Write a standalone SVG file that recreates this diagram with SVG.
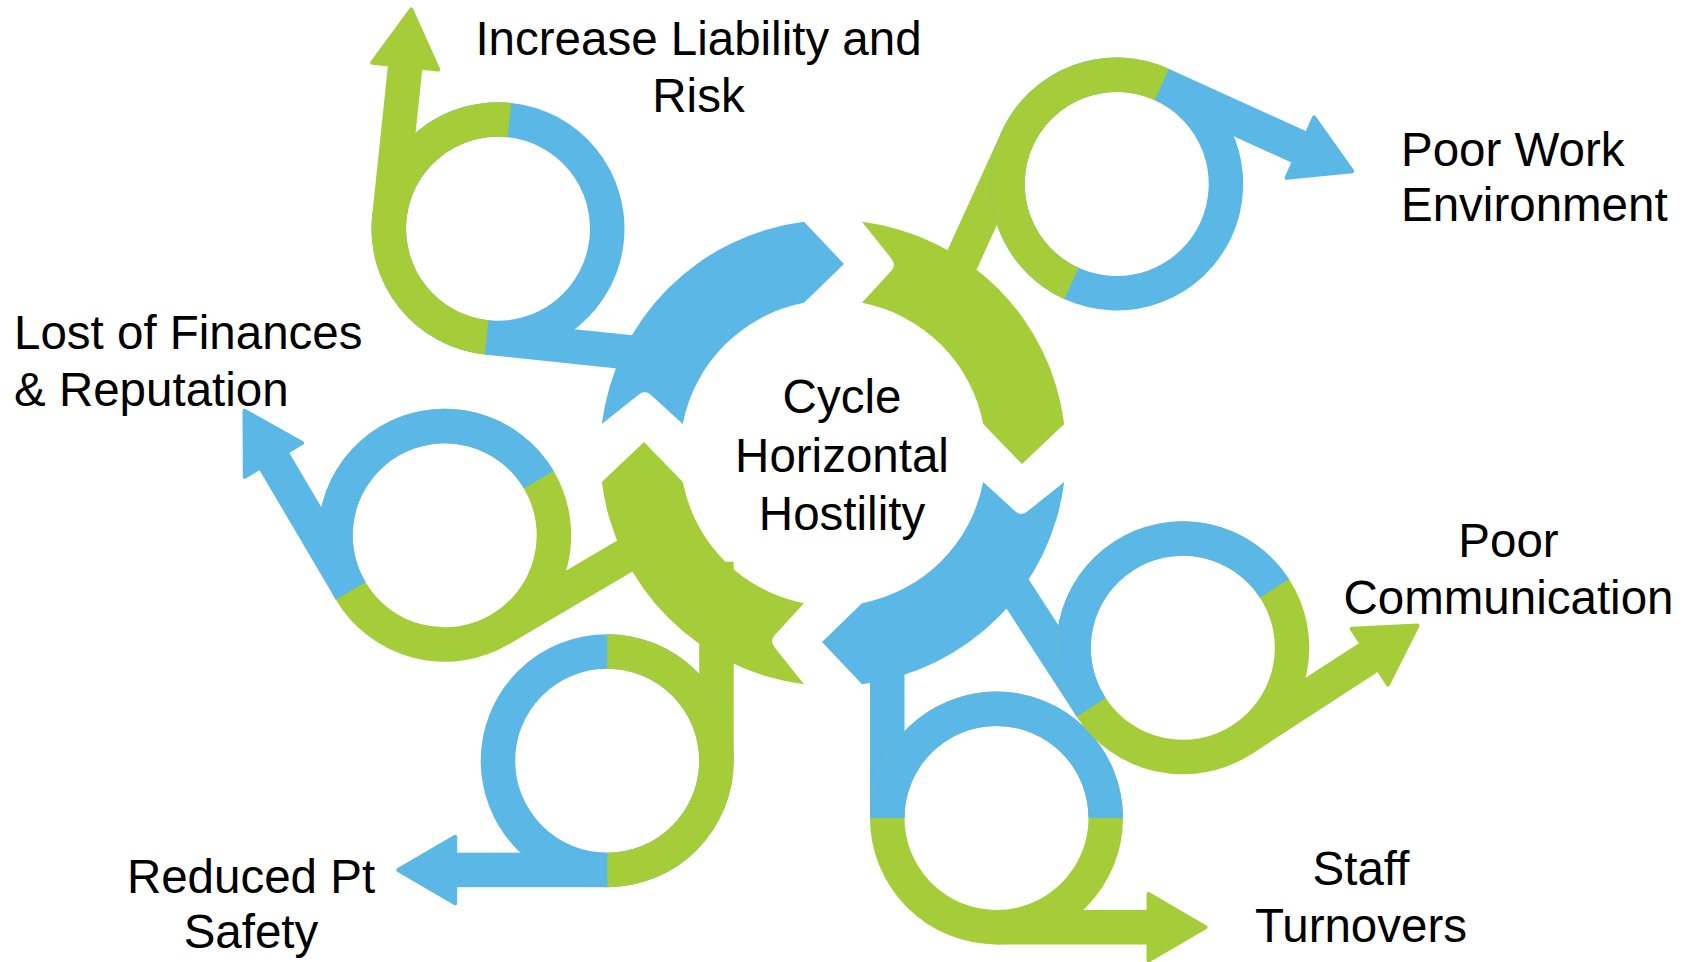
<svg xmlns="http://www.w3.org/2000/svg" width="1692" height="962" viewBox="0 0 1692 962">
<style>
.b{fill:#5BB7E6}
.g{fill:#A5CD39}
.rb{fill:none;stroke:#5BB7E6;stroke-width:34.5}
.rg{fill:none;stroke:#A5CD39;stroke-width:34.5}
.hb{fill:#5BB7E6;stroke:#5BB7E6;stroke-width:4;stroke-linejoin:round}
.hg{fill:#A5CD39;stroke:#A5CD39;stroke-width:4;stroke-linejoin:round}
.t{font-family:"Liberation Sans",Arial,sans-serif;font-size:47.5px;fill:#000}
.m{text-anchor:middle}
</style>
<defs>
<path id="lh" d="M0,-126.5 A126.5,126.5 0 0 0 0,126.5 L0,92 A92,92 0 0 1 0,-92 Z"/>
<path id="th" d="M-126.5,0 A126.5,126.5 0 0 1 126.5,0 L92,0 A92,92 0 0 0 -92,0 Z"/>
</defs>
<rect width="1692" height="962" fill="#fff"/>

<g id="connectors">
<rect class="b" transform="translate(498,228.7) rotate(6)" x="0" y="92" width="152" height="34.5"/>
<rect class="g" transform="translate(1116.7,184) rotate(24.5) scale(1,-1)" x="-126.5" y="-185" width="34.5" height="185"/>
<rect class="b" transform="translate(1182.8,647.8) rotate(-33)" x="-126.5" y="-185" width="34.5" height="185"/>
<rect class="b" transform="translate(996.5,818)" x="-126.5" y="-178" width="34.5" height="178"/>
<rect class="g" transform="translate(607.2,760.7) scale(-1,1)" x="-126.5" y="-199" width="34.5" height="199"/>
<rect class="g" transform="translate(444.7,535.3) rotate(-30.5)" x="0" y="92" width="185" height="34.5"/>
</g>

<g id="hub">
<g transform="translate(833,453)">
<path class="b" d="M-231.2,-29 A233,233 0 0 1 -29,-231.2 L11,-189 L-29,-150.2 A153,153 0 0 0 -150.2,-29 L-182.3,-58.3 Q-188,-63.5 -194.5,-58.3 Z"/>
<path class="g" transform="rotate(90)" d="M-231.2,-29 A233,233 0 0 1 -29,-231.2 L11,-189 L-29,-150.2 A153,153 0 0 0 -150.2,-29 L-182.3,-58.3 Q-188,-63.5 -194.5,-58.3 Z"/>
<path class="b" transform="rotate(180)" d="M-231.2,-29 A233,233 0 0 1 -29,-231.2 L11,-189 L-29,-150.2 A153,153 0 0 0 -150.2,-29 L-182.3,-58.3 Q-188,-63.5 -194.5,-58.3 Z"/>
<path class="g" transform="rotate(270)" d="M-231.2,-29 A233,233 0 0 1 -29,-231.2 L11,-189 L-29,-150.2 A153,153 0 0 0 -150.2,-29 L-182.3,-58.3 Q-188,-63.5 -194.5,-58.3 Z"/>
</g>
<text class="t m" x="842" y="413">Cycle</text>
<text class="t m" x="842" y="471.5">Horizontal</text>
<text class="t m" x="842" y="529.5">Hostility</text>
</g>

<g id="loop-liability">
<g transform="translate(498,228.7) rotate(6)">
<circle class="rb" r="109.25"/>
<use href="#lh" class="g"/>
<rect class="g" x="-126.5" y="-153" width="34.5" height="153"/>
<path class="hg" d="M-142.5,-152 L-109.25,-209 L-76,-152 Z"/>
</g>
<text class="t m" x="698.5" y="55">Increase Liability and</text>
<text class="t m" x="698.5" y="112">Risk</text>
</g>

<g id="loop-environment">
<g transform="translate(1116.7,184) rotate(24.5) scale(1,-1)">
<circle class="rb" r="109.25"/>
<use href="#lh" class="g"/>
<rect class="b" x="0" y="92" width="153" height="34.5"/>
<path class="hb" d="M152,76 L209,109.25 L152,142.5 Z"/>
</g>
<text class="t" x="1401" y="165.5">Poor Work</text>
<text class="t" x="1401" y="220.5">Environment</text>
</g>

<g id="loop-turnovers">
<g transform="translate(996.5,818)">
<circle class="rg" r="109.25"/>
<use href="#th" class="b"/>
<rect class="g" x="0" y="92" width="153" height="34.5"/>
<path class="hg" d="M152,76 L209,109.25 L152,142.5 Z"/>
</g>
<text class="t m" x="1361" y="885">Staff</text>
<text class="t m" x="1361" y="942">Turnovers</text>
</g>

<g id="loop-communication">
<g transform="translate(1182.8,647.8) rotate(-33)">
<circle class="rg" r="109.25"/>
<use href="#th" class="b"/>
<rect class="g" x="0" y="92" width="153" height="34.5"/>
<path class="hg" d="M152,76 L209,109.25 L152,142.5 Z"/>
</g>
<text class="t m" x="1508.5" y="557">Poor</text>
<text class="t m" x="1508.5" y="614">Communication</text>
</g>

<g id="loop-safety">
<g transform="translate(607.2,760.7) scale(-1,1)">
<circle class="rb" r="109.25"/>
<use href="#lh" class="g"/>
<rect class="b" x="0" y="92" width="153" height="34.5"/>
<path class="hb" d="M152,76 L209,109.25 L152,142.5 Z"/>
</g>
<text class="t m" x="251" y="893">Reduced Pt</text>
<text class="t m" x="251" y="948">Safety</text>
</g>

<g id="loop-finances">
<g transform="translate(444.7,535.3) rotate(-30.5)">
<circle class="rg" r="109.25"/>
<use href="#th" class="b"/>
<rect class="b" x="-126.5" y="-153" width="34.5" height="153"/>
<path class="hb" d="M-142.5,-152 L-109.25,-209 L-76,-152 Z"/>
</g>
<text class="t" x="14" y="348.5">Lost of Finances</text>
<text class="t" x="14" y="405.5">&amp; Reputation</text>
</g>
</svg>
